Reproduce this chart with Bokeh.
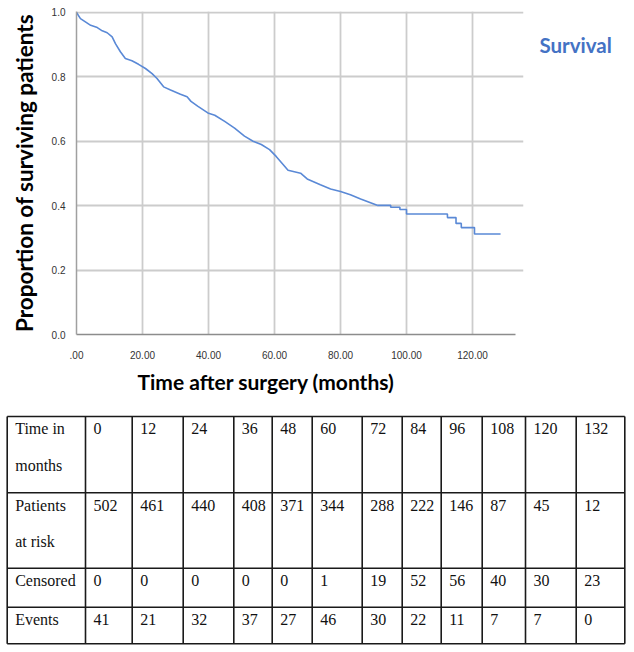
import numpy as np
from bokeh.plotting import figure
from bokeh.models import Range1d, FixedTicker, ColumnDataSource, Title, LinearAxis
from bokeh.layouts import column
from bokeh.embed import file_html
from bokeh.resources import INLINE
from bokeh.core.properties import value

# ---- Kaplan-Meier curve ----
months = [0, 1.2, 2.7, 4.3, 6.3, 7.8, 9.3, 10.8, 11.8, 13.3, 14.8, 16.8, 18.8, 20.9,
          22.9, 24.4, 26.4, 28.5, 31.5, 33.5, 34.7, 36.7, 39.8, 41.9, 44.9, 47.9,
          50.9, 53.5, 56.0, 58.5, 60.5, 62.6, 64.1, 67.9, 69.9, 73.9, 77.0, 80.0,
          83.0, 86.1, 89.1, 91.1, 95.2, 98.0, 100.0, 112.4, 115.0, 116.6, 120.6, 128.5]
survival = [1.0, 0.981, 0.971, 0.960, 0.953, 0.943, 0.937, 0.924, 0.903, 0.878, 0.857,
            0.850, 0.839, 0.826, 0.810, 0.795, 0.769, 0.759, 0.746, 0.738, 0.724, 0.709,
            0.688, 0.681, 0.662, 0.641, 0.616, 0.600, 0.590, 0.574, 0.553, 0.528, 0.510,
            0.501, 0.483, 0.465, 0.452, 0.444, 0.434, 0.421, 0.409, 0.401, 0.395, 0.388,
            0.374, 0.363, 0.345, 0.332, 0.312, 0.312]
step_from = 91.1  # after this time the curve is drawn with visible steps

x_ticks = [0, 20, 40, 60, 80, 100, 120]
x_tick_labels = [".00", "20.00", "40.00", "60.00", "80.00", "100.00", "120.00"]
y_ticks = [0.0, 0.2, 0.4, 0.6, 0.8, 1.0]
y_tick_labels = ["0.0", "0.2", "0.4", "0.6", "0.8", "1.0"]

series_name = "Survival"
legend_y = 0.9
x_title = "Time after surgery (months)"
y_title = "Proportion of surviving patients"

# ---- Risk table ----
row_labels = [["Time in", "months"], ["Patients", "at risk"], ["Censored"], ["Events"]]
time_points = [0, 12, 24, 36, 48, 60, 72, 84, 96, 108, 120, 132]
at_risk = [502, 461, 440, 408, 371, 344, 288, 222, 146, 87, 45, 12]
censored = [0, 0, 0, 0, 0, 1, 19, 52, 56, 40, 30, 23]
events = [41, 21, 32, 37, 27, 46, 30, 22, 11, 7, 7, 0]

LINE_BLUE = "#5A89D6"
LEGEND_BLUE = "#4472C4"
TITLE_FONT = "Lato"

# ================= chart =================
p = figure(width=634, height=400, x_range=Range1d(0, 135.45), y_range=Range1d(0, 1.003),
           output_backend="svg", toolbar_location=None, frame_align=False,
           min_border_left=76, min_border_right=111, min_border_top=11, min_border_bottom=66)
p.outline_line_color = None
p.background_fill_color = "white"
p.border_fill_color = "white"

for ax in (p.xaxis[0], p.yaxis[0]):
    ax.major_tick_line_color = None
    ax.minor_tick_line_color = None
    ax.major_label_text_font = "Liberation Sans"
    ax.major_label_text_font_size = "10px"
    ax.major_label_text_color = "#333333"

p.xaxis.ticker = FixedTicker(ticks=x_ticks)
p.xaxis.major_label_overrides = {t: l for t, l in zip(x_ticks, x_tick_labels)}
p.xaxis.major_label_standoff = 10
p.xaxis.axis_line_color = "#8c8c8c"
p.xaxis.axis_line_width = 1.5
p.xaxis.bounds = (0, 133)

p.yaxis.ticker = FixedTicker(ticks=y_ticks)
p.yaxis.major_label_overrides = {t: l for t, l in zip(y_ticks, y_tick_labels)}
p.yaxis.major_label_standoff = 5
p.yaxis.axis_line_color = "#a0a0a0"
p.yaxis.axis_line_width = 1.5
p.yaxis.axis_label = y_title
p.yaxis.axis_label_text_font = TITLE_FONT
p.yaxis.axis_label_text_font_style = "bold"
p.yaxis.axis_label_text_font_size = "22.5px"
p.yaxis.axis_label_text_color = "#000000"
p.yaxis.axis_label_standoff = 11

p.xgrid.ticker = FixedTicker(ticks=x_ticks)
p.ygrid.ticker = FixedTicker(ticks=y_ticks)
p.grid.grid_line_color = "#cccccc"
p.grid.grid_line_width = 1.8

m = np.array(months)
s = np.array(survival)
smooth = m <= step_from
stepped = m >= step_from
p.line(m[smooth], s[smooth], line_color=LINE_BLUE, line_width=1.6)
p.step(m[stepped], s[stepped], mode="after", line_color=LINE_BLUE, line_width=1.6)

# series key at the right of the plot (text only, as in the reference)
key_axis = LinearAxis(ticker=FixedTicker(ticks=[legend_y]),
                      major_label_overrides={legend_y: series_name},
                      axis_line_color=None, major_tick_line_color=None,
                      minor_tick_line_color=None, major_label_standoff=10,
                      major_label_text_font=TITLE_FONT, major_label_text_font_style="bold",
                      major_label_text_font_size="20.5px", major_label_text_color=LEGEND_BLUE)
p.add_layout(key_axis, "right")

xt = Title(text=x_title, align="left", offset=61, standoff=10,
           text_font=TITLE_FONT, text_font_style="bold", text_font_size="21px",
           text_color="#000000")
p.add_layout(xt, "below")

# ================= table =================
TW, TH = 634, 252
t = figure(width=TW, height=TH, x_range=Range1d(0, TW), y_range=Range1d(TH, 0),
           output_backend="svg", toolbar_location=None, frame_align=False,
           x_axis_type=None, y_axis_type=None, min_border=0)
t.grid.visible = False
t.outline_line_color = None
t.background_fill_color = "white"
t.border_fill_color = "white"

col_lines = [6.7, 85, 131.7, 182.7, 233.3, 271.7, 311.7, 361.7, 401.7, 440.7, 481.7, 525, 575.7, 624.3]
row_lines = [16, 92.3, 167.7, 206.7, 243.3]

t.segment(x0=col_lines, y0=[row_lines[0]] * len(col_lines),
          x1=col_lines, y1=[row_lines[-1]] * len(col_lines),
          line_color="#1a1a1a", line_width=1.6)
t.segment(x0=[col_lines[0]] * len(row_lines), y0=row_lines,
          x1=[col_lines[-1]] * len(row_lines), y1=row_lines,
          line_color="#1a1a1a", line_width=1.6)

xs, ys, txt = [], [], []
for r, labels in enumerate(row_labels):
    for k, lab in enumerate(labels):
        xs.append(col_lines[0] + 8)
        ys.append(row_lines[r] + 12.3 + k * 36.7)
        txt.append(lab)
for r, vals in enumerate([time_points, at_risk, censored, events]):
    for c, v in enumerate(vals):
        xs.append(col_lines[c + 1] + 8)
        ys.append(row_lines[r] + 12.3)
        txt.append(str(v))
src = ColumnDataSource(dict(x=xs, y=ys, text=txt))
t.text(x="x", y="y", text="text", source=src, text_font=value("Liberation Serif"),
       text_font_size="16px", text_color="#111111", text_align="left", text_baseline="middle")

layout = column(p, t, spacing=0)
open("out.html", "w").write(file_html(layout, INLINE))
